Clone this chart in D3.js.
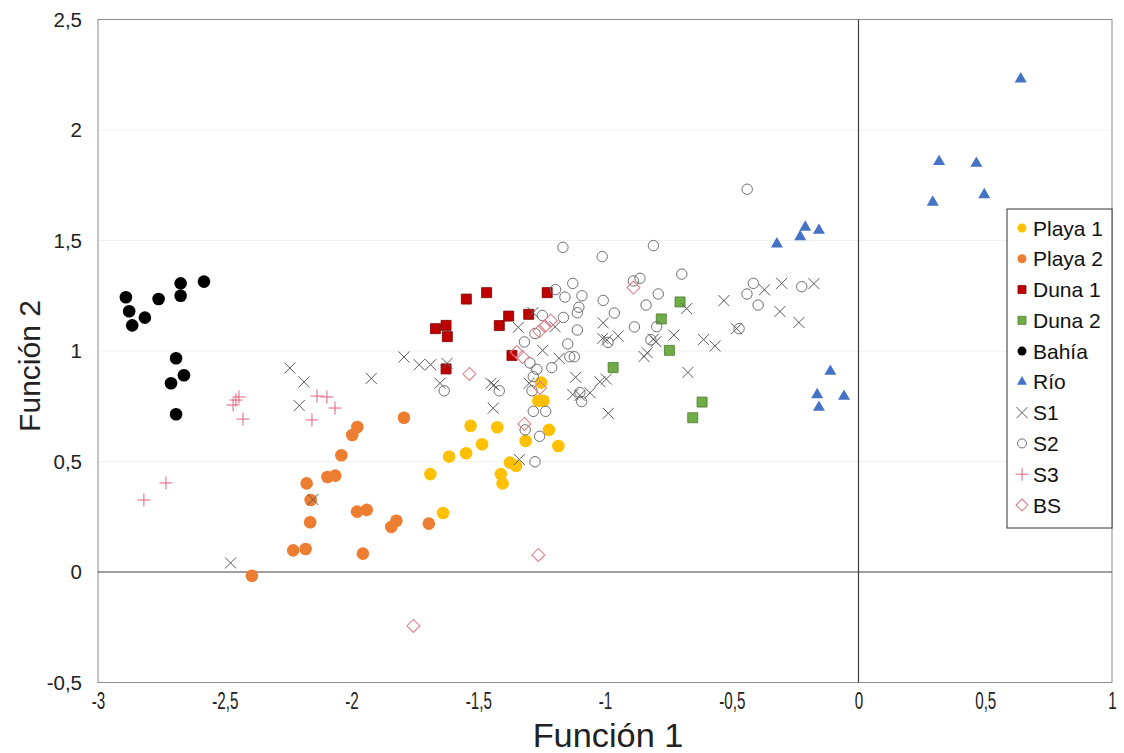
<!DOCTYPE html>
<html><head><meta charset="utf-8">
<script src="https://cdn.jsdelivr.net/npm/d3@7"></script>
<style>body{margin:0;background:#fff}svg{display:block;font-family:"Liberation Sans",Arial,Helvetica,sans-serif}</style>
</head><body>
<svg id="c" width="1124" height="753"></svg>
<script>
// ---- data ----
const xTicks = [-3,-2.5,-2,-1.5,-1,-0.5,0,0.5,1];
const yTicks = [-0.5,0,0.5,1,1.5,2,2.5];
const seriesNames = ["Playa 1","Playa 2","Duna 1","Duna 2","Bahía","Río","S1","S2","S3","BS"];

const playa1 = [[-1.530,0.662],[-1.425,0.655],[-1.485,0.578],[-1.548,0.537],[-1.615,0.522],[-1.689,0.443],[-1.639,0.267],[-1.375,0.495],[-1.351,0.480],[-1.411,0.443],[-1.404,0.401],[-1.313,0.593],[-1.221,0.643],[-1.184,0.570],[-1.263,0.775],[-1.243,0.775],[-1.252,0.857]];
const playa2 = [[-1.793,0.698],[-1.977,0.656],[-1.997,0.620],[-2.040,0.528],[-2.095,0.430],[-2.064,0.436],[-2.177,0.401],[-2.161,0.326],[-2.163,0.225],[-1.978,0.273],[-1.940,0.281],[-1.843,0.204],[-1.823,0.232],[-1.695,0.219],[-2.230,0.098],[-2.181,0.104],[-1.955,0.083],[-2.393,-0.017]];
const duna1 = [[-1.669,1.101],[-1.627,1.116],[-1.622,1.065],[-1.627,0.919],[-1.547,1.235],[-1.467,1.264],[-1.417,1.115],[-1.380,1.158],[-1.301,1.166],[-1.228,1.264],[-1.367,0.980]];
const duna2 = [[-0.704,1.222],[-0.778,1.145],[-0.746,1.003],[-0.968,0.925],[-0.617,0.769],[-0.654,0.698]];
const bahia = [[-2.890,1.243],[-2.877,1.180],[-2.865,1.116],[-2.815,1.151],[-2.761,1.235],[-2.674,1.306],[-2.674,1.250],[-2.582,1.314],[-2.692,0.967],[-2.661,0.890],[-2.712,0.854],[-2.692,0.714]];
const rio = [[0.640,2.231],[0.318,1.857],[0.465,1.849],[0.496,1.707],[0.293,1.673],[-0.322,1.484],[-0.210,1.560],[-0.230,1.517],[-0.156,1.546],[-0.111,0.908],[-0.163,0.802],[-0.057,0.795],[-0.156,0.745]];
const s1 = [[-2.477,0.041],[-2.243,0.923],[-2.187,0.860],[-2.206,0.753],[-2.152,0.328],[-1.922,0.876],[-1.793,0.973],[-1.733,0.938],[-1.688,0.938],[-1.623,0.944],[-1.651,0.854],[-1.450,0.854],[-1.438,0.846],[-1.441,0.741],[-1.342,1.107],[-1.284,1.174],[-1.197,1.110],[-1.246,1.003],[-1.181,0.967],[-1.299,0.854],[-1.338,0.509],[-1.116,0.881],[-1.127,0.803],[-1.099,0.799],[-1.059,0.811],[-1.020,0.861],[-0.995,0.873],[-1.007,1.127],[-1.009,1.057],[-0.993,1.050],[-0.948,1.068],[-0.987,0.718],[-0.846,0.975],[-0.833,0.992],[-0.809,1.054],[-0.799,1.042],[-0.728,1.072],[-0.678,1.192],[-0.673,0.903],[-0.611,1.052],[-0.566,1.023],[-0.531,1.228],[-0.481,1.101],[-0.371,1.277],[-0.303,1.306],[-0.310,1.179],[-0.235,1.129],[-0.176,1.305]];
const s2 = [[-1.634,0.820],[-1.417,0.820],[-1.318,1.041],[-1.276,1.079],[-1.247,1.161],[-1.195,1.278],[-1.158,1.244],[-1.127,1.306],[-1.091,1.250],[-1.164,1.152],[-1.103,1.198],[-1.109,1.173],[-1.109,1.095],[-1.147,1.032],[-1.139,0.974],[-1.121,0.974],[-1.210,0.925],[-1.296,0.946],[-1.269,0.917],[-1.283,0.884],[-1.288,0.820],[-1.283,0.727],[-1.234,0.727],[-1.315,0.643],[-1.258,0.614],[-1.276,0.499],[-1.099,0.812],[-1.092,0.771],[-1.166,1.469],[-1.011,1.427],[-1.007,1.229],[-0.963,1.172],[-0.988,1.039],[-0.884,1.109],[-0.888,1.317],[-0.862,1.329],[-0.809,1.477],[-0.790,1.258],[-0.838,1.208],[-0.796,1.110],[-0.819,1.051],[-0.697,1.348],[-0.439,1.732],[-0.415,1.306],[-0.440,1.258],[-0.396,1.208],[-0.224,1.291],[-0.471,1.101]];
const s3 = [[-2.444,0.792],[-2.456,0.778],[-2.467,0.756],[-2.428,0.692],[-2.136,0.796],[-2.097,0.792],[-2.065,0.742],[-2.156,0.688],[-2.732,0.403],[-2.819,0.326]];
const bs = [[-1.535,0.896],[-1.348,0.995],[-1.325,0.973],[-1.259,1.089],[-1.237,1.112],[-1.214,1.137],[-1.256,0.833],[-1.318,0.670],[-0.888,1.287],[-1.263,0.077],[-1.756,-0.244]];

// ---- layout ----
const m = {l:98, r:1112, t:19.5, b:682.5};
const svg = d3.select("#c");
const x = d3.scaleLinear().domain([-3,1]).range([m.l, m.r]);
const y = d3.scaleLinear().domain([-0.5,2.5]).range([m.b, m.t]);
const fmt = v => String(v).replace(".", ",");

// gridlines
svg.append("g").selectAll("line").data(yTicks.filter(v=>v!==0 && v!==-0.5 && v!==2.5)).join("line")
  .attr("x1", m.l).attr("x2", m.r).attr("y1", d=>y(d)).attr("y2", d=>y(d))
  .attr("stroke", "#f0f0f0").attr("stroke-width", 1);

// frame
svg.append("rect").attr("x", m.l).attr("y", m.t).attr("width", m.r-m.l).attr("height", m.b-m.t)
  .attr("fill","none").attr("stroke","#8c8c8c").attr("stroke-width",1);

// zero lines
svg.append("line").attr("x1", m.l).attr("x2", m.r).attr("y1", y(0)).attr("y2", y(0)).attr("stroke","#404040").attr("stroke-width",1.2);
svg.append("line").attr("x1", x(0)).attr("x2", x(0)).attr("y1", m.t).attr("y2", m.b).attr("stroke","#404040").attr("stroke-width",1.2);

// axes via d3 axis (labels only)
const yAxis = d3.axisLeft(y).tickValues(yTicks).tickFormat(fmt).tickSize(0).tickPadding(16);
const gy = svg.append("g").attr("transform", `translate(${m.l},0)`).call(yAxis);
gy.select(".domain").remove();
gy.selectAll("text").attr("font-size", 20.5).attr("fill","#222").attr("font-family",'"Liberation Sans",Arial,sans-serif');

const xAxis = d3.axisBottom(x).tickValues(xTicks).tickFormat(fmt).tickSize(0).tickPadding(10);
const gx = svg.append("g").attr("transform", `translate(0,${m.b})`).call(xAxis);
gx.select(".domain").remove();
gx.selectAll(".tick text").attr("font-size", 23).attr("fill","#222").attr("font-family",'"Liberation Sans",Arial,sans-serif')
  .attr("transform","scale(0.66,1)").attr("x", 0);

// titles
svg.append("text").attr("transform", `translate(${x(-1)+3},747) scale(1.04,1)`).attr("text-anchor","middle")
  .attr("font-size", 33).attr("fill","#222").text("Función 1");
svg.append("text").attr("transform", `translate(40,366) rotate(-90)`).attr("text-anchor","middle")
  .attr("font-size", 30).attr("fill","#222").text("Función 2");

// ---- marker shapes ----
function shapePath(kind, s){
  switch(kind){
    case "circle": return d3.symbol(d3.symbolCircle, Math.PI*s*s)();
    case "square": return `M${-s},${-s}H${s}V${s}H${-s}Z`;
    case "triangle": { const h = s*1.732; return `M0,${-h*2/3}L${s},${h/3}L${-s},${h/3}Z`; }
    case "times": return `M${-s},${-s}L${s},${s}M${-s},${s}L${s},${-s}`;
    case "plus": return `M${-s},0H${s}M0,${-s}V${s}`;
    case "diamond": return `M0,${-s}L${s},0L0,${s}L${-s},0Z`;
  }
}
const styles = [
  {data: playa1, kind:"circle", s:6.3, fill:"#FFC000", stroke:"none", sw:0, ls:4.5},
  {data: playa2, kind:"circle", s:6.3, fill:"#ED7D31", stroke:"none", sw:0, ls:4.5},
  {data: duna1, kind:"square", s:5, fill:"#C00000", stroke:"#7a0000", sw:0.8, ls:4},
  {data: duna2, kind:"square", s:5, fill:"#70AD47", stroke:"#4a7a2e", sw:0.8, ls:4},
  {data: bahia, kind:"circle", s:6.3, fill:"#000000", stroke:"none", sw:0, ls:4.5},
  {data: rio, kind:"triangle", s:6, fill:"#4472C4", stroke:"none", sw:0, ls:5},
  {data: s1, kind:"times", s:5.5, fill:"none", stroke:"#595959", sw:1, ls:5.5},
  {data: s2, kind:"circle", s:5.2, fill:"none", stroke:"#6f6f6f", sw:1, ls:4.5},
  {data: s3, kind:"plus", s:6.5, fill:"none", stroke:"#E0607A", sw:1, ls:6.5},
  {data: bs, kind:"diamond", s:6.5, fill:"none", stroke:"#E0808E", sw:1.1, ls:6},
];

const plot = svg.append("g");
styles.forEach(st => {
  plot.append("g").selectAll("path").data(st.data).join("path")
    .attr("d", shapePath(st.kind, st.s))
    .attr("transform", d => `translate(${x(d[0])},${y(d[1])})`)
    .attr("fill", st.fill).attr("stroke", st.stroke).attr("stroke-width", st.sw);
});

// ---- legend ----
const lg = svg.append("g");
lg.append("rect").attr("x", 1007).attr("y", 209).attr("width", 105).attr("height", 319)
  .attr("fill","#fff").attr("stroke","#333").attr("stroke-width",1);
const ly = d3.scalePoint().domain(seriesNames).range([228, 505]);
seriesNames.forEach((n,i) => {
  const st = styles[i];
  const g = lg.append("g").attr("transform", `translate(0,${ly(n)})`);
  g.append("path").attr("d", shapePath(st.kind, st.ls)).attr("transform","translate(1022,0)")
    .attr("fill", st.fill).attr("stroke", st.stroke).attr("stroke-width", st.sw);
  g.append("text").attr("x", 1033).attr("y", 0).attr("dy","0.36em").attr("font-size", 21).attr("fill","#111").text(n);
});
</script>
</body></html>
